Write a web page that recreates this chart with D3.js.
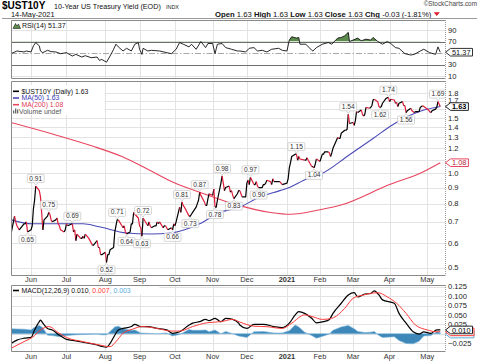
<!DOCTYPE html>
<html><head><meta charset="utf-8">
<script src="https://cdn.jsdelivr.net/npm/d3@7"></script>
<style>
html,body{margin:0;padding:0;background:#fff;}
svg{display:block;}
text{font-family:"Liberation Sans",Arial,sans-serif;}
</style></head><body>
<svg id="chart" width="480" height="363"></svg>
<script>
// ---------------- DATA ----------------
const priceStart = "2020-05-15", priceEnd = "2021-05-14";
const holidays = ["2020-05-25","2020-07-03","2020-09-07","2020-10-12","2020-11-11","2020-11-26","2020-12-25","2021-01-01","2021-01-18","2021-02-15"];
// daily closes, one per trading day
const priceValues = [
 // May 2020 (from 15th)
 0.64,0.73,0.70,0.68,0.67,0.66,0.69,0.69,0.70,0.65,
 // Jun
 0.66,0.68,0.77,0.82,0.91,0.88,0.84,0.75,0.66,0.71,0.73,0.75,0.74,0.71,0.70,0.71,0.72,0.69,0.68,0.66,0.65,0.66,
 // Jul
 0.69,0.68,0.69,0.65,0.66,0.61,0.64,0.62,0.62,0.63,0.62,0.64,0.62,0.61,0.60,0.59,0.59,0.61,0.58,0.58,0.55,0.55,
 // Aug
 0.56,0.52,0.55,0.55,0.57,0.58,0.65,0.68,0.71,0.71,0.68,0.67,0.68,0.65,0.64,0.65,0.69,0.69,0.75,0.74,0.72,
 // Sep
 0.68,0.67,0.63,0.72,0.68,0.70,0.68,0.67,0.68,0.68,0.70,0.69,0.70,0.67,0.68,0.68,0.67,0.66,0.67,0.66,0.69,
 // Oct
 0.68,0.70,0.78,0.75,0.81,0.79,0.78,0.73,0.73,0.74,0.75,0.78,0.80,0.82,0.87,0.85,0.81,0.79,0.79,0.83,0.86,
 // Nov
 0.85,0.89,0.78,0.78,0.82,0.93,0.98,0.88,0.90,0.91,0.87,0.88,0.85,0.83,0.86,0.88,0.88,0.84,0.84,
 // Dec
 0.93,0.95,0.92,0.97,0.92,0.92,0.94,0.91,0.90,0.90,0.92,0.92,0.93,0.95,0.94,0.92,0.96,0.94,0.94,0.94,0.93,0.92,
 // Jan 2021
 0.93,0.96,1.04,1.08,1.13,1.15,1.15,1.10,1.13,1.11,1.10,1.10,1.12,1.10,1.05,1.05,1.04,1.07,1.11,
 // Feb
 1.09,1.12,1.15,1.15,1.17,1.17,1.16,1.13,1.16,1.20,1.30,1.29,1.29,1.34,1.37,1.37,1.38,1.54,1.44,
 // Mar
 1.45,1.42,1.47,1.57,1.56,1.59,1.54,1.52,1.54,1.62,1.61,1.62,1.64,1.71,1.72,1.69,1.63,1.62,1.63,1.67,1.73,1.74,1.74,
 // Apr
 1.69,1.72,1.71,1.67,1.68,1.63,1.67,1.69,1.64,1.64,1.56,1.58,1.61,1.58,1.57,1.56,1.57,1.57,1.62,1.63,1.64,1.63,
 // May
 1.60,1.59,1.57,1.56,1.58,1.60,1.62,1.69,1.66,1.63
];
const ma50Series = [["2020-05-15",0.71],["2020-06-02",0.69],["2020-06-11",0.69],["2020-07-15",0.69],["2020-07-29",0.675],["2020-08-21",0.645],["2020-09-10",0.64],["2020-09-28",0.645],["2020-10-14",0.67],["2020-10-22",0.69],["2020-11-08",0.75],["2020-11-25",0.78],["2020-12-12",0.84],["2020-12-29",0.88],["2021-01-06",0.90],["2021-01-21",0.96],["2021-02-01",0.99],["2021-02-26",1.145],["2021-03-18",1.29],["2021-04-04",1.43],["2021-04-27",1.575],["2021-05-14",1.63]];
const ma200Series = [["2020-05-15",1.45],["2020-06-17",1.34],["2020-07-23",1.22],["2020-08-17",1.13],["2020-09-10",1.02],["2020-10-01",0.93],["2020-10-22",0.87],["2020-11-19",0.80],["2020-12-21",0.75],["2021-01-07",0.74],["2021-02-01",0.765],["2021-02-18",0.79],["2021-04-01",0.92],["2021-04-27",1.00],["2021-05-14",1.08]];
const rsiSeries = [["2020-05-15",48.8],["2020-05-20",53.5],["2020-05-26",51.8],["2020-05-28",53.5],["2020-06-01",51.8],["2020-06-03",62.4],["2020-06-05",68.2],["2020-06-08",62.4],["2020-06-09",53.5],["2020-06-11",50.6],["2020-06-15",54.7],["2020-06-18",52.4],["2020-06-22",51.8],["2020-06-26",48.8],["2020-07-01",50.6],["2020-07-06",44.7],["2020-07-09",47.6],["2020-07-14",43.0],["2020-07-17",45.3],["2020-07-22",41.8],["2020-07-27",43.0],["2020-07-29",37.1],["2020-07-31",38.8],["2020-08-04",34.1],["2020-08-07",44.7],["2020-08-10",56.5],["2020-08-12",65.3],["2020-08-14",60.6],["2020-08-18",53.5],["2020-08-21",58.2],["2020-08-25",53.5],["2020-08-28",65.3],["2020-08-31",68.2],["2020-09-01",56.5],["2020-09-03",47.6],["2020-09-04",58.2],["2020-09-08",53.5],["2020-09-11",54.7],["2020-09-18",53.5],["2020-09-24",50.6],["2020-09-28",48.8],["2020-10-02",56.5],["2020-10-05",68.2],["2020-10-08",65.3],["2020-10-13",60.6],["2020-10-15",65.3],["2020-10-19",56.5],["2020-10-23",70.0],["2020-10-27",59.4],["2020-10-29",66.5],["2020-11-02",66.5],["2020-11-04",48.8],["2020-11-06",65.3],["2020-11-10",66.5],["2020-11-13",59.4],["2020-11-18",56.5],["2020-11-23",53.5],["2020-11-25",53.5],["2020-11-30",51.8],["2020-12-03",58.2],["2020-12-07",59.4],["2020-12-10",53.5],["2020-12-14",54.7],["2020-12-18",51.8],["2020-12-22",56.5],["2020-12-28",58.2],["2020-12-31",54.7],["2021-01-04",53.5],["2021-01-06",72.4],["2021-01-08",78.2],["2021-01-12",75.9],["2021-01-14",77.0],["2021-01-15",65.3],["2021-01-20",65.3],["2021-01-25",54.7],["2021-01-26",53.5],["2021-01-29",59.4],["2021-02-03",65.3],["2021-02-08",68.2],["2021-02-11",65.3],["2021-02-16",75.9],["2021-02-19",77.0],["2021-02-22",80.0],["2021-02-25",85.9],["2021-02-26",70.0],["2021-03-01",72.4],["2021-03-05",75.9],["2021-03-08",71.2],["2021-03-12",74.1],["2021-03-16",72.4],["2021-03-18",77.0],["2021-03-22",70.0],["2021-03-26",65.3],["2021-03-30",70.0],["2021-04-02",66.5],["2021-04-06",59.4],["2021-04-09",58.2],["2021-04-14",48.8],["2021-04-19",46.5],["2021-04-22",47.6],["2021-04-27",53.5],["2021-04-30",56.5],["2021-05-05",50.6],["2021-05-10",47.6],["2021-05-12",60.6],["2021-05-14",51.37]];
const macdSeries = [["2020-05-15",-0.026],["2020-05-20",-0.017],["2020-05-26",-0.012],["2020-06-01",-0.010],["2020-06-04",0.010],["2020-06-08",0.032],["2020-06-09",0.036],["2020-06-11",0.028],["2020-06-15",0.014],["2020-06-19",0.010],["2020-06-25",-0.004],["2020-07-01",-0.015],["2020-07-09",-0.019],["2020-07-17",-0.024],["2020-07-27",-0.030],["2020-07-31",-0.034],["2020-08-04",-0.036],["2020-08-07",-0.026],["2020-08-11",-0.004],["2020-08-14",0.010],["2020-08-18",0.014],["2020-08-25",0.019],["2020-08-28",0.025],["2020-09-02",0.019],["2020-09-08",0.019],["2020-09-16",0.014],["2020-09-24",0.010],["2020-09-29",0.001],["2020-10-05",0.005],["2020-10-13",0.023],["2020-10-16",0.028],["2020-10-22",0.032],["2020-10-27",0.038],["2020-10-30",0.035],["2020-11-04",0.041],["2020-11-09",0.032],["2020-11-13",0.041],["2020-11-19",0.038],["2020-11-24",0.028],["2020-11-25",0.023],["2020-12-01",0.014],["2020-12-07",0.025],["2020-12-15",0.025],["2020-12-24",0.019],["2020-12-31",0.016],["2021-01-06",0.028],["2021-01-11",0.050],["2021-01-14",0.0585],["2021-01-19",0.054],["2021-01-25",0.041],["2021-01-29",0.029],["2021-02-04",0.032],["2021-02-09",0.038],["2021-02-12",0.054],["2021-02-19",0.081],["2021-02-25",0.103],["2021-03-02",0.109],["2021-03-05",0.098],["2021-03-11",0.1055],["2021-03-16",0.107],["2021-03-19",0.114],["2021-03-23",0.103],["2021-03-26",0.090],["2021-04-05",0.081],["2021-04-09",0.054],["2021-04-15",0.028],["2021-04-21",0.005],["2021-04-26",-0.001],["2021-04-30",0.005],["2021-05-06",0.001],["2021-05-11",0.010],["2021-05-14",0.010]];
const signalSeries = [["2020-05-15",-0.039],["2020-05-26",-0.021],["2020-06-02",-0.010],["2020-06-10",0.012],["2020-06-16",0.019],["2020-06-24",0.003],["2020-07-01",-0.010],["2020-07-15",-0.021],["2020-07-29",-0.030],["2020-08-07",-0.0345],["2020-08-12",-0.021],["2020-08-18",0.001],["2020-08-26",0.012],["2020-09-03",0.019],["2020-09-16",0.014],["2020-09-28",0.007],["2020-10-05",0.007],["2020-10-16",0.019],["2020-10-28",0.029],["2020-11-09",0.032],["2020-11-19",0.038],["2020-11-25",0.031],["2020-12-07",0.020],["2020-12-18",0.0186],["2020-12-31",0.014],["2021-01-08",0.028],["2021-01-19",0.050],["2021-01-26",0.045],["2021-02-03",0.038],["2021-02-11",0.041],["2021-02-22",0.0675],["2021-03-01",0.094],["2021-03-10",0.103],["2021-03-22",0.109],["2021-03-30",0.098],["2021-04-07",0.081],["2021-04-15",0.054],["2021-04-23",0.023],["2021-05-03",0.010],["2021-05-11",0.005],["2021-05-14",0.007]];
const histSeries = [["2020-05-15",0.013],["2020-05-26",0.012],["2020-06-01",0.010],["2020-06-04",0.017],["2020-06-08",0.022],["2020-06-11",0.016],["2020-06-15",-0.004],["2020-06-19",-0.005],["2020-06-25",-0.008],["2020-07-01",-0.005],["2020-07-09",-0.003],["2020-07-17",-0.002],["2020-07-27",-0.001],["2020-07-31",-0.003],["2020-08-04",-0.003],["2020-08-07",0.006],["2020-08-11",0.018],["2020-08-14",0.020],["2020-08-18",0.013],["2020-08-25",0.009],["2020-08-28",0.010],["2020-09-02",0.002],["2020-09-08",0.001],["2020-09-16",0.000],["2020-09-24",0.002],["2020-09-29",-0.006],["2020-10-05",-0.002],["2020-10-13",0.011],["2020-10-16",0.009],["2020-10-22",0.009],["2020-10-27",0.010],["2020-10-30",0.005],["2020-11-04",0.010],["2020-11-09",0.000],["2020-11-13",0.006],["2020-11-19",0.000],["2020-11-24",-0.006],["2020-12-01",-0.010],["2020-12-07",0.005],["2020-12-15",0.006],["2020-12-24",0.002],["2020-12-31",0.002],["2021-01-06",0.008],["2021-01-11",0.023],["2021-01-14",0.018],["2021-01-19",0.004],["2021-01-25",-0.005],["2021-01-29",-0.012],["2021-02-04",-0.006],["2021-02-09",-0.001],["2021-02-12",0.009],["2021-02-19",0.018],["2021-02-25",0.022],["2021-03-02",0.013],["2021-03-05",0.006],["2021-03-11",0.003],["2021-03-16",0.004],["2021-03-19",0.006],["2021-03-23",-0.005],["2021-03-26",-0.010],["2021-04-05",-0.008],["2021-04-09",-0.018],["2021-04-15",-0.026],["2021-04-21",-0.027],["2021-04-26",-0.020],["2021-04-30",-0.006],["2021-05-06",-0.005],["2021-05-11",0.005],["2021-05-14",0.003]];
const priceLabels = [["2020-05-29",0.65,"below"],["2020-06-05",0.91,"above"],["2020-06-16",0.75,"above"],["2020-07-06",0.69,"above"],["2020-08-04",0.52,"below"],["2020-08-13",0.71,"above"],["2020-08-21",0.64,"below"],["2020-09-04",0.72,"above"],["2020-09-03",0.63,"below"],["2020-09-29",0.66,"below"],["2020-10-07",0.81,"above"],["2020-10-14",0.73,"below"],["2020-10-22",0.87,"above"],["2020-11-04",0.78,"below"],["2020-11-10",0.98,"above"],["2020-11-20",0.83,"below"],["2020-12-04",0.97,"above"],["2020-12-11",0.90,"below"],["2021-01-12",1.15,"above"],["2021-01-27",1.04,"below"],["2021-02-25",1.54,"above"],["2021-03-24",1.62,"below"],["2021-03-31",1.74,"above"],["2021-04-15",1.56,"below"],["2021-05-12",1.69,"above"]];
const monthTickDates = ["2020-06-01","2020-07-01","2020-08-03","2020-09-01","2020-10-01","2020-11-02","2020-12-01","2021-01-04","2021-02-01","2021-03-01","2021-04-01","2021-05-03"];
const monthTickLabels = ["Jun","Jul","Aug","Sep","Oct","Nov","Dec","2021","Feb","Mar","Apr","May"];
const priceTicks = [0.5,0.6,0.7,0.8,0.9,1.0,1.1,1.2,1.3,1.4,1.5,1.6,1.7,1.8];
const rsiTicks = [10,30,50,70,90];
const macdTicks = [-0.025,0,0.025,0.05,0.075,0.1,0.125];
const quote = [["Open",1],["1.63",0],["High",1],["1.63",0],["Low",1],["1.63",0],["Close",1],["1.63",0],["Chg",1],["-0.03 (-1.81%)",0]];
const lastValues = {price:1.63, ma50:1.63, ma200:1.08, rsi:51.37, macd:0.010, signal:0.007, hist:0.003};

// ---------------- SETUP ----------------
const P = d3.timeParse("%Y-%m-%d");
const fmt = d3.timeFormat("%Y-%m-%d");
const svg = d3.select("#chart");
const X0 = 11, X1 = 445;
const x = d3.scaleTime().domain([P("2020-05-15"), P("2021-05-18")]).range([X0, X1]);
const R = {top:20, bot:78}, M = {top:81, bot:275}, D = {top:285, bot:351};
const yR = d3.scaleLinear().domain([30,70]).range([64.5,41.5]);
const yP = d3.scaleLog().domain([0.474,1.966]).range([M.bot, M.top]);
const yD = d3.scaleLinear().domain([0,0.1]).range([333.7,296.1]);

const hol = new Set(holidays);
const days = d3.timeDay.range(P(priceStart), d3.timeDay.offset(P(priceEnd),1))
  .filter(d => d.getDay()!==0 && d.getDay()!==6 && !hol.has(fmt(d)));
const n = Math.min(days.length, priceValues.length);
const price = d3.range(n).map(i => ({date:days[i], v:priceValues[i]}));
const toPts = s => s.map(d => ({date:P(d[0]), v:d[1]}));

const GRID = "#e3e3e3";
function frame(p, ticks, y, id) {
  const g = svg.append("g");
  g.append("rect").attr("x",X0).attr("y",p.top).attr("width",X1-X0).attr("height",p.bot-p.top).attr("fill","#fff");
  g.selectAll(null).data(ticks).join("line")
    .attr("x1",X0).attr("x2",X1)
    .attr("y1",d=>Math.round(y(d))+0.5).attr("y2",d=>Math.round(y(d))+0.5)
    .attr("stroke",GRID).attr("stroke-width",1);
  g.selectAll(null).data(monthTickDates).join("line")
    .attr("x1",d=>Math.round(x(P(d)))+0.5).attr("x2",d=>Math.round(x(P(d)))+0.5)
    .attr("y1",p.top).attr("y2",p.bot).attr("stroke",GRID).attr("stroke-width",1);
  svg.append("clipPath").attr("id",id).append("rect")
    .attr("x",X0).attr("y",p.top).attr("width",X1-X0).attr("height",p.bot-p.top);
  return svg.append("g").attr("clip-path",`url(#${id})`);
}
function border(p) {
  const g = svg.append("g").attr("fill","none");
  g.append("path").attr("d",`M${X1+0.5},${p.top+0.5}H${X0+0.5}V${p.bot+0.5}H${X1+0.5}`).attr("stroke","#8a8a8a");
  g.append("line").attr("x1",X1+0.5).attr("x2",X1+0.5).attr("y1",p.top).attr("y2",p.bot)
    .attr("stroke","#9a9a9a").attr("stroke-dasharray","1,1");
}
function rightAxis(ticks, y, fmtf, avoid) {
  svg.append("g").selectAll(null)
    .data(ticks.filter(t => avoid.every(a => Math.abs(y(t)-y(a))>=5)))
    .join("text").attr("x",448).attr("y",d=>y(d)).attr("dy","0.35em")
    .attr("font-size",7.6).attr("fill","#222").text(fmtf);
}
function tag(y, txt, stroke, fill, bold) {
  const g = svg.append("g");
  let w = 20;
  if (txt) {
    const t = g.append("text").attr("x",452).attr("y",y).attr("dy","0.35em").attr("font-size",7.4)
      .attr("font-weight",bold?"bold":"normal").attr("fill",fill).text(txt);
    w = t.node().getComputedTextLength();
  }
  g.insert("path", txt ? "text" : null).attr("d",`M445.5,${y}L450.5,${y-3.8}H${454+w}V${y+3.8}H450.5Z`)
    .attr("fill","#fff").attr("stroke",stroke).attr("stroke-width",1);
}
function legendLine(g, x0, y, color) {
  g.append("line").attr("x1",x0).attr("x2",x0+6).attr("y1",y).attr("y2",y).attr("stroke",color).attr("stroke-width",1.6);
}

// ---------------- HEADER ----------------
svg.append("text").attr("x",2).attr("y",9).attr("font-weight","bold").attr("font-size",10).attr("fill","#000").text("$UST10Y");
svg.append("text").attr("x",54).attr("y",9).attr("font-size",7.2).attr("fill","#111").text("10-Year US Treasury Yield (EOD)");
svg.append("text").attr("x",166).attr("y",9).attr("font-size",5.4).attr("fill","#222").text("INDX");
svg.append("text").attr("x",11).attr("y",16.6).attr("font-size",7.4).attr("fill","#111").text("14-May-2021");
svg.append("text").attr("x",477).attr("y",5.6).attr("text-anchor","end").attr("font-size",6.4).attr("fill","#444").text("\u00A9StockCharts.com");
const hdr = svg.append("text").attr("x",215).attr("y",16.6).attr("fill","#111").attr("font-family","DejaVu Sans").attr("font-size",7.7);
quote.forEach(([t,b],i) => hdr.append("tspan").attr("font-weight",b?"bold":"normal").text((i?" ":"")+t));
const hdrEnd = 215 + hdr.node().getComputedTextLength();
svg.append("path").attr("d",`M${hdrEnd+2.5},12.2H${hdrEnd+8.5}L${hdrEnd+5.5},16Z`).attr("fill","#e0192c");
svg.append("line").attr("x1",2).attr("x2",477).attr("y1",18.5).attr("y2",18.5).attr("stroke","#9a9a9a");

// ---------------- RSI PANEL ----------------
const gR = frame(R, [10,90], yR, "clipR");
const rsi = toPts(rsiSeries);
svg.append("clipPath").attr("id","clipR70").append("rect").attr("x",X0).attr("y",R.top).attr("width",X1-X0).attr("height",yR(70)-R.top);
gR.append("g").attr("clip-path","url(#clipR70)").append("path").datum(rsi)
  .attr("d", d3.area().x(d=>x(d.date)).y0(yR(70)).y1(d=>yR(d.v)))
  .attr("fill","#5b8c4c");
gR.append("line").attr("x1",X0).attr("x2",X1).attr("y1",Math.round(yR(70))+0.5).attr("y2",Math.round(yR(70))+0.5).attr("stroke","#6e6e6e");
gR.append("line").attr("x1",X0).attr("x2",X1).attr("y1",Math.round(yR(30))+0.5).attr("y2",Math.round(yR(30))+0.5).attr("stroke","#6e6e6e");
gR.append("line").attr("x1",X0).attr("x2",X1).attr("y1",Math.round(yR(50))+0.5).attr("y2",Math.round(yR(50))+0.5).attr("stroke","#a8a8a8").attr("stroke-dasharray","6,2,1.5,2");
gR.append("path").datum(rsi).attr("d", d3.line().x(d=>x(d.date)).y(d=>yR(d.v)))
  .attr("fill","none").attr("stroke","#111").attr("stroke-width",0.9);
const lgR = svg.append("g");
lgR.append("path").attr("d","M13,28.5L15.5,23.5L17,26L18.5,24L20.5,28.5Z").attr("fill","#5b8c4c").attr("stroke","#222").attr("stroke-width",0.6);
lgR.append("text").attr("x",22).attr("y",28).attr("font-family","DejaVu Sans").attr("font-size",7).attr("fill","#111").text("RSI(14) 51.37");
border(R);
rightAxis(rsiTicks, yR, d=>d, [lastValues.rsi]);
tag(yR(lastValues.rsi), "51.37", "#333", "#111", false);

// ---------------- MAIN PANEL ----------------
const gM = frame(M, priceTicks, yP, "clipM");
const lineMA = d3.line().x(d=>x(d.date)).y(d=>yP(d.v)).curve(d3.curveMonotoneX);
gM.append("path").datum(toPts(ma200Series)).attr("d",lineMA).attr("fill","none").attr("stroke","#e8455f").attr("stroke-width",1.1);
gM.append("path").datum(toPts(ma50Series)).attr("d",lineMA).attr("fill","none").attr("stroke","#4a4ab8").attr("stroke-width",1.1);
// price: black on up days, red on down days
const runs = [];
for (let i=1;i<price.length;i++){
  const c = price[i].v < price[i-1].v ? "#e01e3c" : "#000";
  if (runs.length && runs[runs.length-1].c===c) runs[runs.length-1].pts.push(price[i]);
  else runs.push({c, pts:[price[i-1], price[i]]});
}
const lineP = d3.line().x(d=>x(d.date)).y(d=>yP(d.v));
gM.selectAll(null).data(runs).join("path").attr("d",d=>lineP(d.pts)).attr("fill","none")
  .attr("stroke",d=>d.c).attr("stroke-width",1.2).attr("stroke-linejoin","round");
// value labels
priceLabels.forEach(([ds,v,side]) => {
  const px = x(P(ds)), py = yP(v);
  const g = gM.append("g");
  const t = g.append("text").attr("x",px).attr("text-anchor","middle").attr("font-size",6.6).attr("fill","#333").text(v.toFixed(2));
  const w = t.node().getComputedTextLength()+4, h = 8;
  const by = side==="above" ? py-3.5-h : py+3.5;
  g.insert("rect","text").attr("x",px-w/2).attr("y",by).attr("width",w).attr("height",h).attr("rx",1)
    .attr("fill","#fff").attr("fill-opacity",0.9).attr("stroke","#c4c4c4").attr("stroke-width",0.7);
  const tip = side==="above" ? `M${px-2},${by+h}L${px},${py-1}L${px+2},${by+h}` : `M${px-2},${by}L${px},${py+1}L${px+2},${by}`;
  g.insert("path","text").attr("d",tip).attr("fill","#fff").attr("stroke","#c4c4c4").attr("stroke-width",0.7);
  t.attr("y", by+h-1.9);
});
// legend
const lgM = svg.append("g");
lgM.append("rect").attr("x",11.5).attr("y",85).attr("width",93).attr("height",30).attr("fill","#fff");
const lgItems = [["$UST10Y (Daily) 1.63","#000","#111"],["MA(50) 1.63","#4a4ab8","#3a3ab8"],["MA(200) 1.08","#e8455f","#e23a55"]];
lgItems.forEach(([t,lc,tc],i)=>{
  const y = 91.3 + i*6.7;
  legendLine(lgM, 13, y, lc);
  lgM.append("text").attr("x",21.5).attr("y",y+2.4).attr("font-family","DejaVu Sans").attr("font-size",6.9).attr("fill",tc).text(t);
});
lgM.append("path").attr("d","M13,113.5V110.5H14.3V113.5ZM15,113.5V108.5H16.3V113.5ZM17,113.5V109.5H18.3V113.5Z").attr("fill","#666");
lgM.append("text").attr("x",19).attr("y",113.5).attr("font-family","DejaVu Sans").attr("font-size",6.9).attr("fill","#555").text("Volume undef");
border(M);
rightAxis(priceTicks, yP, d3.format(".1f"), [lastValues.price, lastValues.ma200]);
tag(yP(lastValues.ma200), "1.08", "#e8455f", "#b0283c", false);
tag(yP(lastValues.price), "1.63", "#222", "#000", true);
// month labels under main panel
svg.append("g").selectAll(null).data(monthTickDates).join("text")
  .attr("x",d=>x(P(d))).attr("y",281.8).attr("text-anchor","middle").attr("font-size",7.4).attr("fill","#333")
  .attr("font-weight",(d,i)=>monthTickLabels[i]==="2021"?"bold":"normal").text((d,i)=>monthTickLabels[i]);

// ---------------- MACD PANEL ----------------
const gD = frame(D, macdTicks, yD, "clipD");
gD.append("path").datum(toPts(histSeries))
  .attr("d", d3.area().x(d=>x(d.date)).y0(yD(0)).y1(d=>yD(d.v)))
  .attr("fill","#3d88b8").attr("stroke","#7ab6dc").attr("stroke-width",0.6);
const lineD = d3.line().x(d=>x(d.date)).y(d=>yD(d.v)).curve(d3.curveMonotoneX);
gD.append("path").datum(toPts(macdSeries)).attr("d",lineD).attr("fill","none").attr("stroke","#000").attr("stroke-width",1.2);
gD.append("path").datum(toPts(signalSeries)).attr("d",lineD).attr("fill","none").attr("stroke","#ff3a3a").attr("stroke-width",1);
const lgD = svg.append("g");
lgD.append("rect").attr("x",11.5).attr("y",286).attr("width",148).attr("height",8).attr("fill","#fff");
legendLine(lgD, 13, 290.5, "#000");
const tD = lgD.append("text").attr("x",21.5).attr("y",293).attr("font-family","DejaVu Sans").attr("font-size",6.9);
tD.append("tspan").attr("fill","#111").text("MACD(12,26,9) 0.010");
tD.append("tspan").attr("fill","#ff3a3a").text(", 0.007");
tD.append("tspan").attr("fill","#5aaedc").text(", 0.003");
border(D);
rightAxis(macdTicks, yD, d3.format(".3f"), [lastValues.macd]);
tag(yD(lastValues.hist)+1.5, null, "#5aaedc");
tag(yD(lastValues.signal)+0.8, null, "#ff3a3a");
tag(yD(lastValues.macd), "0.010", "#222", "#000", false);
svg.append("g").selectAll(null).data(monthTickDates).join("text")
  .attr("x",d=>x(P(d))).attr("y",359).attr("text-anchor","middle").attr("font-size",7.4).attr("fill","#333")
  .attr("font-weight",(d,i)=>monthTickLabels[i]==="2021"?"bold":"normal").text((d,i)=>monthTickLabels[i]);
</script>
</body></html>
